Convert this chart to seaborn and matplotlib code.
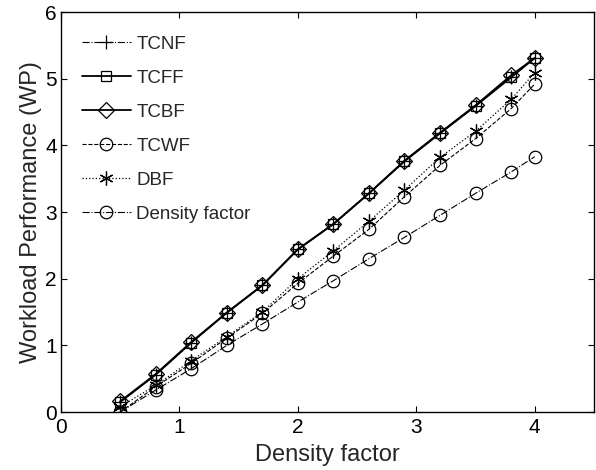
import matplotlib
matplotlib.use("Agg")
import matplotlib.pyplot as plt
import seaborn as sns
import pandas as pd

sns.set_style("white")
plt.rcParams['font.family'] = ['Liberation Sans', 'DejaVu Sans']

density = [0.5, 0.8, 1.1, 1.4, 1.7, 2.0, 2.3, 2.6, 2.9, 3.2, 3.5, 3.8, 4.0]
tcnf = [0.15, 0.56, 1.04, 1.49, 1.90, 2.44, 2.82, 3.28, 3.76, 4.18, 4.59, 5.02, 5.31]
tcff = [0.15, 0.56, 1.04, 1.49, 1.90, 2.44, 2.82, 3.28, 3.76, 4.18, 4.59, 5.02, 5.31]
tcbf = [0.16, 0.57, 1.05, 1.49, 1.90, 2.44, 2.82, 3.28, 3.77, 4.19, 4.60, 5.05, 5.31]
tcwf = [0.00, 0.38, 0.73, 1.11, 1.48, 1.93, 2.34, 2.74, 3.23, 3.70, 4.10, 4.55, 4.92]
dbf = [0.08, 0.40, 0.77, 1.13, 1.50, 2.00, 2.42, 2.86, 3.33, 3.82, 4.21, 4.69, 5.09]
dfac = [0.00, 0.33, 0.65, 1.00, 1.32, 1.65, 1.97, 2.30, 2.62, 2.95, 3.28, 3.60, 3.83]

names = ["TCNF", "TCFF", "TCBF", "TCWF", "DBF", "Density factor"]
values = [tcnf, tcff, tcbf, tcwf, dbf, dfac]
markers = ["+", "s", "D", "o", (6, 2, 0), "o"]
styles = ["-.", "-", "-", "--", ":", "-."]
msizes = [10, 7, 8, 9, 10, 9]
lwidths = [0.8, 1.3, 1.3, 0.8, 0.9, 0.8]

frames = []
for n, v in zip(names, values):
    frames.append(pd.DataFrame({"x": density, "y": v, "series": n}))
df = pd.concat(frames, ignore_index=True)

fig = plt.figure(figsize=(5.96, 4.70), dpi=100)
ax = fig.add_axes([61/596, 58/470, (594-61)/596, 400/470])

for n, m, ls, ms, lw in zip(names, markers, styles, msizes, lwidths):
    sub = df[df["series"] == n]
    sns.lineplot(data=sub, x="x", y="y", ax=ax, color="black", marker=m,
                 linestyle=ls, linewidth=lw, markersize=ms,
                 markerfacecolor="none", markeredgecolor="black",
                 markeredgewidth=0.9, label=n)

ax.set_xlim(0, 4.5)
ax.set_ylim(0, 6)
ax.set_xticks([0, 1, 2, 3, 4])
ax.set_yticks([0, 1, 2, 3, 4, 5, 6])
ax.tick_params(axis="both", labelsize=15, direction="in", length=4, width=0.8,
               top=True, right=True, bottom=True, left=True, colors="black")
ax.tick_params(axis="x", pad=4)
ax.tick_params(axis="y", pad=3)
for s in ax.spines.values():
    s.set_color("black")
    s.set_linewidth(1.0)
ax.set_xlabel("Density factor", fontsize=17, labelpad=5)
ax.set_ylabel("Workload Performance (WP)", fontsize=17, labelpad=2)

leg = ax.legend(loc="upper left", frameon=False, fontsize=13.5, handlelength=2.6,
                labelspacing=0.9, bbox_to_anchor=(0.025, 0.96), borderaxespad=0.0,
                handletextpad=0.3)

fig.savefig("out.png", dpi=100)
